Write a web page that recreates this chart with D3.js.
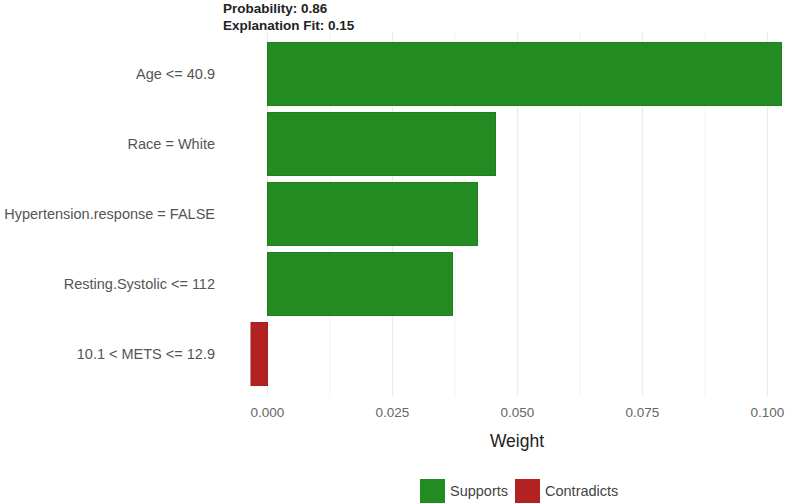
<!DOCTYPE html>
<html>
<head>
<meta charset="utf-8">
<script src="https://cdn.jsdelivr.net/npm/d3@7"></script>
<style>
  html, body { margin: 0; padding: 0; background: #fff; }
  svg { display: block; font-family: "Liberation Sans", Arial, sans-serif; }
</style>
</head>
<body>
<svg id="chart" width="787" height="504"></svg>
<script>
// ---- data ----
const features = ["Age <= 40.9", "Race = White", "Hypertension.response = FALSE", "Resting.Systolic <= 112", "10.1 < METS <= 12.9"];
const weights = [0.1028, 0.0456, 0.0420, 0.0370, -0.0033];
const xTicks = [0, 0.025, 0.05, 0.075, 0.1];
const xMinorTicks = [0.0125, 0.0375, 0.0625, 0.0875];
const titleLines = ["Probability: 0.86", "Explanation Fit: 0.15"];
const legendLabels = ["Supports", "Contradicts"];
const legendColors = ["#228B22", "#B22222"];

// ---- layout ----
const W = 787, H = 504;
const panel = { left: 224, right: 810, top: 32, bottom: 396 };
const svg = d3.select("#chart");

const x = d3.scaleLinear().domain([-0.0087, 0.1085]).range([panel.left, panel.right]);
const y = d3.scaleBand().domain(features).range([panel.top, panel.bottom]).paddingInner(0.1).paddingOuter(0.15);

// gridlines
svg.append("g").selectAll("line").data(xMinorTicks).join("line")
  .attr("x1", d => x(d)).attr("x2", d => x(d))
  .attr("y1", panel.top).attr("y2", panel.bottom)
  .attr("stroke", "#f3f3f3").attr("stroke-width", 1);
svg.append("g").selectAll("line").data(xTicks).join("line")
  .attr("x1", d => x(d)).attr("x2", d => x(d))
  .attr("y1", panel.top).attr("y2", panel.bottom)
  .attr("stroke", "#ebebeb").attr("stroke-width", 1.2);

// bars
const data = features.map((f, i) => ({ f, w: weights[i] }));
svg.append("g").selectAll("rect").data(data).join("rect")
  .attr("x", d => x(Math.min(0, d.w)))
  .attr("width", d => Math.abs(x(d.w) - x(0)))
  .attr("y", d => y(d.f))
  .attr("height", y.bandwidth())
  .attr("fill", d => d.w >= 0 ? legendColors[0] : legendColors[1])
  .attr("stroke", d => d.w >= 0 ? "#1f7f1f" : "#a51f1f")
  .attr("stroke-width", 1);

// y labels
svg.append("g").selectAll("text").data(features).join("text")
  .attr("x", 215)
  .attr("y", d => y(d) + y.bandwidth() / 2)
  .attr("dy", "0.35em")
  .attr("text-anchor", "end")
  .attr("font-size", 14.5)
  .attr("fill", "#555")
  .text(d => d);

// x axis tick labels
svg.append("g").selectAll("text").data(xTicks).join("text")
  .attr("x", d => x(d))
  .attr("y", 412)
  .attr("dy", "0.35em")
  .attr("text-anchor", "middle")
  .attr("font-size", 13.5)
  .attr("fill", "#666")
  .text(d => d3.format(".3f")(d));

// x axis title
svg.append("text")
  .attr("x", (panel.left + panel.right) / 2)
  .attr("y", 447)
  .attr("text-anchor", "middle")
  .attr("font-size", 17.5)
  .attr("fill", "#222")
  .text("Weight");

// title lines
svg.append("g").selectAll("text").data(titleLines).join("text")
  .attr("x", 223)
  .attr("y", (d, i) => 13 + i * 17)
  .attr("font-size", 13.5)
  .attr("font-weight", "bold")
  .attr("fill", "#222")
  .text(d => d);

// legend
const leg = svg.append("g");
const legX = [420, 515];
legendLabels.forEach((lab, i) => {
  leg.append("rect")
    .attr("x", legX[i]).attr("y", 479)
    .attr("width", 25).attr("height", 24)
    .attr("fill", legendColors[i]);
  leg.append("text")
    .attr("x", legX[i] + 30).attr("y", 491)
    .attr("dy", "0.35em")
    .attr("font-size", 14.5)
    .attr("fill", "#444")
    .text(lab);
});
</script>
</body>
</html>
